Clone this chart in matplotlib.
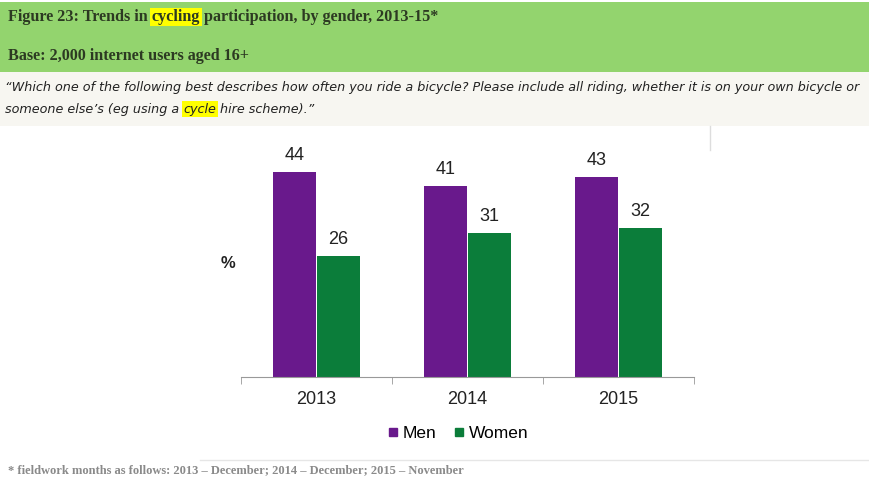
import matplotlib.pyplot as plt
from matplotlib.patches import Rectangle
from matplotlib.lines import Line2D
import numpy as np

years = ["2013", "2014", "2015"]
men = [44, 41, 43]
women = [26, 31, 32]

title_parts = [("Figure 23: Trends in ", False), ("cycling", True),
               (" participation, by gender, 2013-15*", False)]
base_text = "Base: 2,000 internet users aged 16+"
question_1 = [("\u201cWhich one of the following best describes how often you ride a bicycle? "
               "Please include all riding, whether it is on your own bicycle or", False)]
question_2 = [("someone else\u2019s (eg using a ", False), ("cycle", True),
              (" hire scheme).\u201d", False)]
footnote = "* fieldwork months as follows: 2013 \u2013 December; 2014 \u2013 December; 2015 \u2013 November"

PURPLE = "#69198c"
GREEN = "#0b7d3a"
W, H = 869, 480

fig = plt.figure(figsize=(W / 100, H / 100), dpi=100)
fig.patch.set_facecolor("white")


def px(x, y):
    # pixel coords (top-left origin) -> figure fraction
    return x / W, 1 - y / H


# header bands
fig.patches.append(Rectangle(px(0, 72), 1, 70 / H, transform=fig.transFigure,
                             facecolor="#93d46e", edgecolor="none", zorder=0))
fig.patches.append(Rectangle(px(0, 126), 1, 54 / H, transform=fig.transFigure,
                             facecolor="#f7f6f1", edgecolor="none", zorder=0))
fig.lines.append(Line2D([710 / W, 710 / W], [1 - 126 / H, 1 - 150 / H],
                        transform=fig.transFigure, color="#dddddd", lw=1))
fig.lines.append(Line2D([200 / W, 1], [1 - 460 / H, 1 - 460 / H],
                        transform=fig.transFigure, color="#e6e6e6", lw=1))

renderer = fig.canvas.get_renderer()


def run_text(parts, x, y, **kw):
    # draw text pieces one after another, highlighting flagged words
    for s, hl in parts:
        bbox = dict(facecolor="#ffff00", edgecolor="none", pad=1) if hl else None
        t = fig.text(*px(x, y), s, va="center", ha="left", bbox=bbox, **kw)
        ext = t.get_window_extent(renderer)
        x += ext.width


serif = dict(family=["Liberation Serif", "DejaVu Serif"], fontweight="bold",
             color="#2c3a22", fontsize=11.6)
run_text(title_parts, 8, 17, **serif)
run_text([(base_text, False)], 8, 56, **serif)

quest = dict(family="DejaVu Sans", style="italic", color="#222222", fontsize=9.18)
run_text(question_1, 5, 88, **quest)
run_text(question_2, 5, 109, **quest)

fig.text(*px(8, 470), footnote, family=["Liberation Serif", "DejaVu Serif"],
         fontweight="bold", color="#8a8a8a", fontsize=9.0, va="center")

# chart area
left, right, base_y = 241, 694, 377
ax = fig.add_axes([left / W, 1 - base_y / H, (right - left) / W, (base_y - 144.5) / H])
x = np.arange(len(years))
bw = 0.28
b1 = ax.bar(x - 0.145, men, bw, color=PURPLE, label="Men")
b2 = ax.bar(x + 0.145, women, bw, color=GREEN, label="Women")
for bars in (b1, b2):
    ax.bar_label(bars, padding=6, fontsize=13, color="#222222", family="Liberation Sans")

ax.set_xlim(-0.5, 2.5)
ax.set_ylim(0, 50)
for s in ("top", "right", "left"):
    ax.spines[s].set_visible(False)
ax.spines["bottom"].set_color("#999999")
ax.set_yticks([])
ax.set_xticks(x)
ax.set_xticklabels(years, fontsize=13, color="#222222", family="Liberation Sans")
ax.tick_params(axis="x", which="major", length=0, pad=10)
ax.set_xticks([-0.5, 0.5, 1.5, 2.5], minor=True)
ax.tick_params(axis="x", which="minor", length=5, color="#999999")
ax.patch.set_alpha(0)

fig.text(*px(228, 264), "%", fontsize=12, fontweight="bold", color="#222222",
         family="Liberation Sans", ha="center", va="center")

handles = [Line2D([], [], marker="s", ls="none", color=c, markersize=6) for c in (PURPLE, GREEN)]
fig.legend(handles, ["Men", "Women"], loc="center", bbox_to_anchor=px(458, 433),
           ncol=2, frameon=False, handlelength=0.6, handletextpad=0.25, columnspacing=1.0,
           prop=dict(family="Liberation Sans", size=12.5))

fig.savefig("out.png", dpi=100)
